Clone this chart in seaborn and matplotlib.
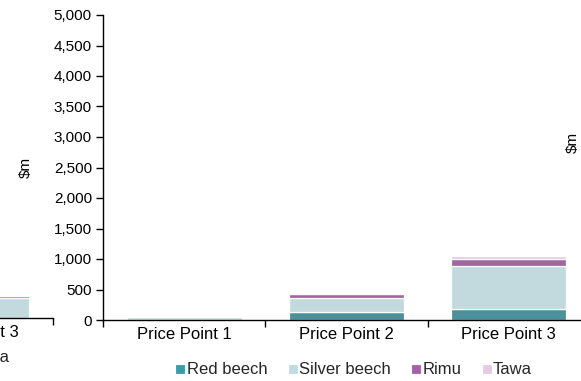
import matplotlib
matplotlib.use("Agg")
import matplotlib.pyplot as plt
from matplotlib.lines import Line2D
import numpy as np
import pandas as pd
import seaborn as sns

# Harvest value by species at each price point ($m)
categories = ["Price Point 1", "Price Point 2", "Price Point 3"]
species = ["Red beech", "Silver beech", "Rimu", "Tawa"]
red_beech = [0, 130, 175]
silver_beech = [45, 225, 705]
rimu = [0, 75, 120]
tawa = [0, 10, 50]

# neighbouring scenario panel (only its last price point reaches into view)
side_red_beech = [0, 0, 0]
side_silver_beech = [0, 0, 330]
side_rimu = [0, 0, 30]
side_tawa = [0, 0, 15]

colors = ["#3e9aa8", "#bddde2", "#a65ea8", "#e8c8e6"]
yticks = [0, 500, 1000, 1500, 2000, 2500, 3000, 3500, 4000, 4500, 5000]

sns.set_theme(style="white")
plt.rcParams["font.family"] = ["Liberation Sans", "DejaVu Sans"]

W, H = 581, 381
fig = plt.figure(figsize=(W / 100, H / 100), dpi=100)


def draw_panel(ax, series_list, with_ylabels):
    df = pd.DataFrame({"category": categories})
    bottom = np.zeros(len(categories))
    for name, vals, col in zip(species, series_list, colors):
        vals = np.asarray(vals, dtype=float)
        sns.barplot(x=df["category"], y=vals, bottom=bottom, color=col,
                    width=0.71, edgecolor="white", linewidth=0.9,
                    ax=ax, order=categories)
        bottom = bottom + vals
    ax.set_xlim(-0.5, len(categories) - 0.5)
    ax.set_ylim(0, 5000)
    ax.set_yticks(yticks)
    if with_ylabels:
        ax.set_yticklabels([f"{v:,}" for v in yticks])
    else:
        ax.set_yticklabels([])
    ax.set_xticks(np.arange(-0.5, len(categories), 1.0))
    ax.set_xticklabels([])
    ax.set_xticks(np.arange(len(categories)), minor=True)
    ax.set_xticklabels(categories, minor=True)
    ax.tick_params(axis="x", which="major", direction="out", length=5,
                   width=1, color="black", bottom=True)
    ax.tick_params(axis="x", which="minor", length=0, pad=5,
                   labelsize=12, labelcolor="black")
    ax.tick_params(axis="y", direction="out", length=5, width=1,
                   color="black", left=True, pad=3, labelsize=11,
                   labelcolor="black")
    ax.set_xlabel("")
    ax.set_ylabel("")
    for side in ("top", "right"):
        ax.spines[side].set_visible(False)
    for side in ("left", "bottom"):
        ax.spines[side].set_color("black")
        ax.spines[side].set_linewidth(1.0)
    ax.patch.set_visible(False)


legend_handles = [Line2D([], [], marker="s", linestyle="none", markersize=6,
                         markerfacecolor=c, markeredgecolor=c,
                         markeredgewidth=0.6) for c in colors]
legend_kw = dict(loc="center", ncol=4, bbox_transform=fig.transFigure,
                 frameon=False, handlelength=0.55, handletextpad=0.1,
                 columnspacing=1.25, fontsize=12, borderpad=0)

# left panel, mostly outside the canvas
axl = fig.add_axes([(53 - 487) / W, 1 - 318 / H, 487 / W, 305 / H])
draw_panel(axl, [side_red_beech, side_silver_beech, side_rimu, side_tawa], False)
axl.spines["left"].set_visible(False)
axl.tick_params(axis="y", left=False)
axl.legend(legend_handles, species,
           bbox_to_anchor=((354 - 522) / W, 1 - 358 / H), **legend_kw)

# main panel
ax = fig.add_axes([103 / W, 1 - 320 / H, 487 / W, 305 / H])
draw_panel(ax, [red_beech, silver_beech, rimu, tawa], True)
ax.set_ylabel("$m", fontsize=11, color="black")
ax.yaxis.set_label_coords(-0.145, 0.5)
ax.legend(legend_handles, species, bbox_to_anchor=(354 / W, 1 - 370 / H),
          **legend_kw)

# y label of the panel to the right
fig.text(573 / W, 1 - 142 / H, "$m", rotation=90, ha="center", va="center",
         fontsize=11, color="black")

fig.savefig("out.png", dpi=100, facecolor="white")
